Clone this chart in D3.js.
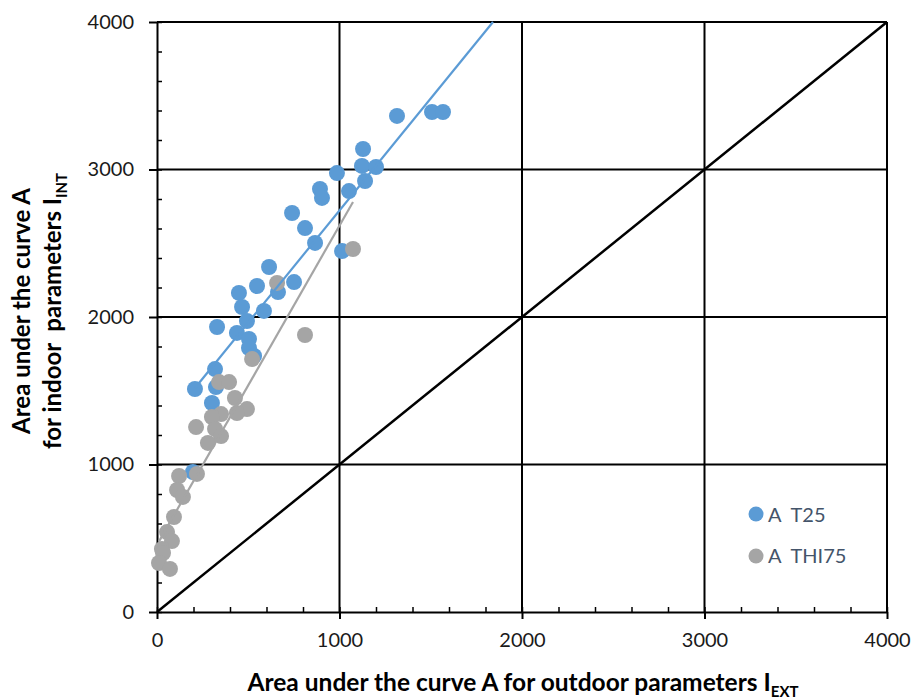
<!DOCTYPE html>
<html>
<head>
<meta charset="utf-8">
<script src="https://cdn.jsdelivr.net/npm/d3@7"></script>
<style>
  body { margin: 0; background: #fff; }
  text { font-family: Lato, "Open Sans", sans-serif; }
</style>
</head>
<body>
<svg id="chart" width="913" height="700"></svg>
<script>
// data: [outdoor I_EXT, indoor I_INT]
const t25Points = [
  [1315, 3363], [1507, 3390], [1567, 3390], [1129, 3139], [1123, 3024], [1200, 3017],
  [986, 2976], [1140, 2922], [893, 2868], [904, 2807], [1052, 2854], [740, 2705],
  [811, 2603], [866, 2502], [1014, 2447], [614, 2339], [548, 2210], [449, 2163],
  [751, 2237], [663, 2169], [466, 2068], [586, 2041], [493, 1973], [329, 1932],
  [438, 1892], [504, 1851], [504, 1790], [532, 1736], [318, 1647], [208, 1512],
  [323, 1525], [301, 1417], [197, 949]
];
const thi75Points = [
  [1074, 2461], [658, 2231], [811, 1878], [521, 1715], [340, 1559], [395, 1559],
  [427, 1451], [493, 1376], [438, 1349], [351, 1342], [301, 1322], [214, 1254],
  [318, 1241], [351, 1193], [279, 1146], [219, 936], [121, 922], [110, 827],
  [142, 780], [93, 644], [55, 542], [82, 481], [27, 427], [33, 400],
  [11, 332], [71, 292]
];
// trendline ends
const t25Trend = [[208, 1519], [1841, 4000]];
const thi75Trend = [[11, 479], [1074, 2780]];
const diagonal = [[0, 0], [4000, 4000]];
const majorTicks = [0, 1000, 2000, 3000, 4000];
const minorTicks = d3.range(0, 4001, 200);
const seriesNames = ["A  T25", "A  THI75"];
const seriesColors = ["#5b9bd5", "#a5a5a5"];

const svg = d3.select("#chart");
const x = d3.scaleLinear().domain([0, 4000]).range([157, 887]);
const y = d3.scaleLinear().domain([0, 4000]).range([612, 22]);

// grid
const grid = svg.append("g").attr("stroke", "#000").attr("stroke-width", 2);
grid.selectAll(".gx").data(majorTicks.slice(1)).enter().append("line")
  .attr("x1", d => x(d)).attr("x2", d => x(d))
  .attr("y1", y(0)).attr("y2", y(4000));
grid.selectAll(".gy").data(majorTicks.slice(1)).enter().append("line")
  .attr("x1", x(0)).attr("x2", x(4000))
  .attr("y1", d => y(d)).attr("y2", d => y(d));

// minor ticks (inside)
svg.append("g").attr("transform", `translate(0,${y(0)})`)
  .call(d3.axisTop(x).tickValues(minorTicks).tickSize(5).tickFormat(""))
  .call(g => g.select(".domain").remove())
  .selectAll("line").attr("stroke", "#000").attr("stroke-width", 1.5);
svg.append("g").attr("transform", `translate(${x(0)},0)`)
  .call(d3.axisRight(y).tickValues(minorTicks).tickSize(5).tickFormat(""))
  .call(g => g.select(".domain").remove())
  .selectAll("line").attr("stroke", "#000").attr("stroke-width", 1.5);

// major ticks + labels
const xAxis = svg.append("g").attr("transform", `translate(0,${y(0)})`)
  .call(d3.axisBottom(x).tickValues(majorTicks).tickFormat(d3.format("d"))
    .tickSizeInner(7).tickSizeOuter(0).tickPadding(14));
const yAxis = svg.append("g").attr("transform", `translate(${x(0)},0)`)
  .call(d3.axisLeft(y).tickValues(majorTicks).tickFormat(d3.format("d"))
    .tickSizeInner(8).tickSizeOuter(0).tickPadding(15));
[xAxis, yAxis].forEach(g => {
  g.select(".domain").attr("stroke", "#000").attr("stroke-width", 2);
  g.selectAll(".tick line").attr("stroke", "#000").attr("stroke-width", 2);
  g.selectAll(".tick text").attr("fill", "#1a1a1a")
    .style("font-family", "Lato, sans-serif").style("font-size", "20px");
});

// 1:1 line
const line = d3.line().x(d => x(d[0])).y(d => y(d[1]));
svg.append("path").attr("d", line(diagonal))
  .attr("fill", "none").attr("stroke", "#000").attr("stroke-width", 2.5);

// points (T25 first, THI75 on top)
[t25Points, thi75Points].forEach((pts, i) => {
  svg.append("g").selectAll("circle").data(pts).enter().append("circle")
    .attr("cx", d => x(d[0])).attr("cy", d => y(d[1]))
    .attr("r", 8)
    .attr("fill", seriesColors[i]);
});

// trendlines
[t25Trend, thi75Trend].forEach((tr, i) => {
  svg.append("path").attr("d", line(tr))
    .attr("fill", "none").attr("stroke", seriesColors[i]).attr("stroke-width", 2.2);
});

// legend
const legend = svg.append("g");
seriesNames.forEach((name, i) => {
  legend.append("circle").attr("cx", 756).attr("cy", 514 + i * 42).attr("r", 7.5).attr("fill", seriesColors[i]);
  legend.append("text").attr("x", 768).attr("y", 522 + i * 41)
    .attr("xml:space", "preserve").style("white-space", "pre")
    .style("font-size", "20px").attr("fill", "#44546a")
    .text(name);
});

// axis titles
const xTitle = svg.append("text").attr("x", 523).attr("y", 691)
  .attr("text-anchor", "middle")
  .style("font-size", "24.5px").style("font-weight", "bold").attr("fill", "#000");
xTitle.append("tspan").text("Area under the curve A for outdoor parameters I");
xTitle.append("tspan").attr("dy", 6).style("font-size", "15px").text("EXT");

const yTitle = svg.append("text")
  .attr("transform", "translate(0,311) rotate(-90)")
  .attr("text-anchor", "middle")
  .style("font-size", "24px").style("font-weight", "bold").attr("fill", "#000");
yTitle.append("tspan").attr("x", 0).attr("y", 30).text("Area under the curve A");
const l2 = yTitle.append("tspan").attr("x", 0).attr("y", 61).attr("xml:space", "preserve").style("white-space", "pre");
l2.append("tspan").text("for indoor  parameters I");
l2.append("tspan").attr("dy", 6).style("font-size", "15px").text("INT");
</script>
</body>
</html>
